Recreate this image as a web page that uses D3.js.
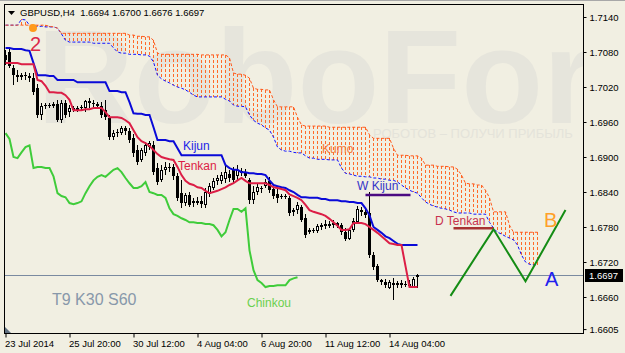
<!DOCTYPE html>
<html><head><meta charset="utf-8">
<script src="https://cdn.jsdelivr.net/npm/d3@7"></script>
<style>html,body{margin:0;padding:0;background:#f1efe2;overflow:hidden}svg{display:block}</style>
</head><body><svg id="c" width="625" height="353"></svg>
<script>
// ---- DATA (GBPUSD H4) ----
const opens=[1.7075,1.7080,1.7052,1.7040,1.7037,1.7040,1.7039,1.7035,1.7018,1.6972,
1.6987,1.6989,1.6987,1.6991,1.6963,1.6992,1.6977,1.6984,1.6980,1.6984,
1.6984,1.6996,1.6992,1.6991,1.6987,1.6980,1.6967,1.6934,1.6941,1.6941,
1.6950,1.6944,1.6932,1.6912,1.6895,1.6907,1.6917,1.6920,1.6881,1.6860,
1.6878,1.6883,1.6883,1.6867,1.6838,1.6821,1.6835,1.6821,1.6824,1.6824,
1.6818,1.6836,1.6847,1.6859,1.6859,1.6862,1.6871,1.6878,1.6867,1.6876,
1.6874,1.6860,1.6826,1.6840,1.6847,1.6850,1.6859,1.6845,1.6836,1.6831,
1.6833,1.6830,1.6806,1.6809,1.6814,1.6795,1.6771,1.6775,1.6773,1.6780,
1.6782,1.6785,1.6783,1.6787,1.6783,1.6771,1.6759,1.6775,1.6788,1.6809,
1.6806,1.6804,1.6732,1.6713,1.6689,1.6686,1.6675,1.6684,1.6680,1.6684,
1.6680,1.6682,1.6677,1.6694];
const highs=[1.7083,1.7087,1.7058,1.7049,1.7044,1.7046,1.7044,1.7044,1.7025,1.6992,
1.6992,1.6992,1.6994,1.6998,1.6998,1.6998,1.6989,1.6987,1.6987,1.6989,
1.6998,1.7001,1.6998,1.6994,1.6994,1.6998,1.6972,1.6946,1.6948,1.6953,
1.6953,1.6950,1.6939,1.6920,1.6915,1.6926,1.6927,1.6927,1.6890,1.6886,
1.6891,1.6890,1.6888,1.6872,1.6860,1.6838,1.6840,1.6830,1.6831,1.6833,
1.6847,1.6855,1.6864,1.6869,1.6874,1.6886,1.6878,1.6883,1.6886,1.6881,
1.6879,1.6864,1.6850,1.6854,1.6850,1.6862,1.6866,1.6848,1.6847,1.6836,
1.6836,1.6833,1.6812,1.6823,1.6818,1.6802,1.6778,1.6778,1.6785,1.6787,
1.6792,1.6790,1.6792,1.6788,1.6787,1.6778,1.6778,1.6795,1.6816,1.6814,
1.6811,1.6840,1.6737,1.6716,1.6691,1.6691,1.6689,1.6692,1.6687,1.6689,
1.6687,1.6689,1.6694,1.6700];
const lows=[1.7058,1.7052,1.7023,1.7028,1.7032,1.7032,1.7028,1.7006,1.6967,1.6963,
1.6982,1.6984,1.6984,1.6960,1.6958,1.6967,1.6968,1.6977,1.6977,1.6979,
1.6977,1.6984,1.6984,1.6984,1.6967,1.6963,1.6929,1.6929,1.6934,1.6938,
1.6938,1.6924,1.6900,1.6886,1.6891,1.6902,1.6912,1.6869,1.6852,1.6857,
1.6869,1.6874,1.6860,1.6824,1.6812,1.6816,1.6814,1.6814,1.6818,1.6812,
1.6812,1.6831,1.6843,1.6852,1.6854,1.6855,1.6857,1.6854,1.6860,1.6867,
1.6864,1.6819,1.6819,1.6835,1.6838,1.6847,1.6838,1.6828,1.6821,1.6828,
1.6828,1.6799,1.6799,1.6802,1.6788,1.6761,1.6768,1.6770,1.6770,1.6775,
1.6776,1.6778,1.6778,1.6778,1.6766,1.6756,1.6758,1.6771,1.6785,1.6799,
1.6795,1.6727,1.6706,1.6686,1.6680,1.6675,1.6674,1.6655,1.6675,1.6675,
1.6677,1.6675,1.6675,1.6676];
const closes=[1.7066,1.7056,1.7040,1.7037,1.7040,1.7039,1.7035,1.7011,1.6972,1.6987,
1.6989,1.6987,1.6991,1.6963,1.6992,1.6972,1.6984,1.6980,1.6984,1.6986,
1.6996,1.6992,1.6991,1.6987,1.6972,1.6968,1.6934,1.6941,1.6943,1.6950,
1.6944,1.6929,1.6907,1.6891,1.6912,1.6920,1.6924,1.6874,1.6857,1.6878,
1.6883,1.6881,1.6867,1.6830,1.6821,1.6835,1.6818,1.6824,1.6821,1.6819,
1.6840,1.6850,1.6859,1.6864,1.6869,1.6874,1.6864,1.6860,1.6878,1.6872,
1.6867,1.6826,1.6840,1.6848,1.6845,1.6857,1.6843,1.6833,1.6830,1.6833,
1.6831,1.6804,1.6809,1.6818,1.6792,1.6766,1.6775,1.6773,1.6782,1.6783,
1.6785,1.6782,1.6787,1.6782,1.6771,1.6759,1.6775,1.6790,1.6811,1.6806,
1.6800,1.6732,1.6711,1.6689,1.6686,1.6680,1.6686,1.6680,1.6684,1.6680,
1.6682,1.6679,1.6691,1.6697];
const tenkan=[1.7061,1.7061,1.7061,1.7061,1.7059,1.7059,1.7059,1.7059,1.7032,1.7030,
1.7022,1.7011,1.7011,1.7010,1.7010,1.7006,1.6998,1.6980,1.6980,1.6980,
1.6982,1.6982,1.6984,1.6984,1.6984,1.6977,1.6968,1.6968,1.6968,1.6967,
1.6963,1.6958,1.6946,1.6934,1.6927,1.6924,1.6919,1.6912,1.6905,1.6900,
1.6898,1.6896,1.6895,1.6883,1.6869,1.6859,1.6854,1.6852,1.6848,1.6847,
1.6842,1.6838,1.6840,1.6842,1.6845,1.6848,1.6852,1.6855,1.6860,1.6864,
1.6859,1.6855,1.6855,1.6855,1.6855,1.6855,1.6852,1.6848,1.6847,1.6845,
1.6843,1.6836,1.6833,1.6830,1.6826,1.6818,1.6809,1.6806,1.6804,1.6802,
1.6799,1.6794,1.6788,1.6782,1.6775,1.6775,1.6776,1.6787,1.6787,1.6787,
1.6785,1.6780,1.6775,1.6770,1.6764,1.6758,1.6752,1.6751,1.6749,1.6749,
1.6713,1.6677,1.6677,1.6677];
const kijun=[1.7087,1.7087,1.7085,1.7085,1.7085,1.7083,1.7082,1.7061,1.7040,1.7040,
1.7040,1.7039,1.7039,1.7032,1.7032,1.7032,1.7032,1.7032,1.7028,1.7028,
1.7028,1.7028,1.7028,1.7028,1.7028,1.7028,1.7013,1.7013,1.7013,1.7011,
1.7011,1.6994,1.6975,1.6974,1.6974,1.6972,1.6972,1.6951,1.6929,1.6929,
1.6929,1.6927,1.6927,1.6915,1.6903,1.6903,1.6903,1.6903,1.6903,1.6903,
1.6903,1.6903,1.6903,1.6903,1.6903,1.6886,1.6881,1.6878,1.6878,1.6874,
1.6874,1.6872,1.6872,1.6871,1.6871,1.6869,1.6860,1.6852,1.6850,1.6848,
1.6847,1.6843,1.6840,1.6835,1.6831,1.6831,1.6830,1.6830,1.6830,1.6828,
1.6828,1.6826,1.6826,1.6826,1.6824,1.6824,1.6823,1.6823,1.6821,1.6821,
1.6812,1.6800,1.6780,1.6775,1.6770,1.6764,1.6761,1.6756,1.6751,1.6749,
1.6749,1.6749,1.6749,1.6749];
const chinkou=[1.6941,1.6931,1.6900,1.6898,1.6908,1.6917,1.6920,1.6881,1.6883,1.6883,
1.6881,1.6881,1.6867,1.6838,1.6833,1.6831,1.6821,1.6819,1.6821,1.6824,
1.6838,1.6850,1.6860,1.6866,1.6869,1.6866,1.6872,1.6878,1.6881,1.6874,
1.6864,1.6855,1.6847,1.6847,1.6850,1.6857,1.6840,1.6838,1.6835,1.6835,
1.6830,1.6812,1.6802,1.6799,1.6795,1.6792,1.6788,1.6788,1.6787,1.6787,
1.6785,1.6785,1.6783,1.6775,1.6764,1.6771,1.6792,1.6811,1.6811,1.6806,
1.6812,1.6740,1.6706,1.6689,1.6684,1.6677,1.6679,1.6679,1.6680,1.6680,
1.6680,1.6689,1.6692,1.6694];
const kumoUpper=[1.7126,1.7126,1.7126,1.7126,1.7126,1.7126,1.7126,1.7126,1.7126,1.7126,
1.7126,1.7124,1.7123,1.7121,1.7112,1.7112,1.7112,1.7112,1.7112,1.7112,
1.7112,1.7112,1.7112,1.7112,1.7112,1.7112,1.7112,1.7112,1.7112,1.7112,
1.7112,1.7109,1.7109,1.7107,1.7107,1.7106,1.7106,1.7100,1.7078,1.7076,
1.7076,1.7076,1.7076,1.7076,1.7076,1.7076,1.7076,1.7076,1.7076,1.7075,
1.7075,1.7075,1.7075,1.7075,1.7075,1.7075,1.7070,1.7044,1.7042,1.7042,
1.7040,1.7035,1.7018,1.7016,1.7016,1.7015,1.7015,1.6998,1.6986,1.6986,
1.6986,1.6986,1.6986,1.6968,1.6955,1.6953,1.6953,1.6953,1.6953,1.6953,
1.6953,1.6951,1.6951,1.6951,1.6951,1.6951,1.6951,1.6951,1.6951,1.6951,
1.6951,1.6938,1.6932,1.6932,1.6932,1.6932,1.6932,1.6915,1.6903,1.6903,
1.6903,1.6902,1.6902,1.6902,1.6898,1.6886,1.6886,1.6886,1.6884,1.6884,
1.6884,1.6883,1.6883,1.6879,1.6869,1.6855,1.6854,1.6854,1.6852,1.6852,
1.6843,1.6830,1.6806,1.6806,1.6806,1.6806,1.6783,1.6771,1.6771,1.6771,
1.6771,1.6771,1.6771,1.6771];
const kumoLower=[1.7126,1.7126,1.7126,1.7126,1.7136,1.7135,1.7126,1.7124,1.7124,1.7124,
1.7123,1.7123,1.7123,1.7121,1.7111,1.7100,1.7097,1.7097,1.7097,1.7097,
1.7097,1.7097,1.7095,1.7095,1.7095,1.7095,1.7095,1.7087,1.7080,1.7078,
1.7078,1.7076,1.7076,1.7076,1.7075,1.7075,1.7073,1.7063,1.7040,1.7034,
1.7030,1.7027,1.7023,1.7020,1.7018,1.7015,1.7011,1.7006,1.7003,1.7003,
1.7003,1.7003,1.7003,1.7003,1.7003,1.6999,1.6996,1.6989,1.6987,1.6987,
1.6986,1.6972,1.6963,1.6958,1.6955,1.6950,1.6946,1.6934,1.6917,1.6912,
1.6910,1.6910,1.6908,1.6907,1.6907,1.6902,1.6898,1.6898,1.6896,1.6896,
1.6896,1.6895,1.6895,1.6895,1.6881,1.6872,1.6871,1.6869,1.6867,1.6867,
1.6866,1.6866,1.6864,1.6864,1.6862,1.6862,1.6860,1.6860,1.6857,1.6852,
1.6847,1.6843,1.6840,1.6838,1.6830,1.6823,1.6819,1.6816,1.6814,1.6812,
1.6811,1.6809,1.6806,1.6804,1.6804,1.6804,1.6804,1.6802,1.6802,1.6802,
1.6802,1.6788,1.6778,1.6771,1.6768,1.6764,1.6761,1.6758,1.6749,1.6732,
1.6720,1.6716,1.6715,1.6715];
const priceTicks=[1.7140,1.7080,1.7020,1.6960,1.6900,1.6840,1.6780,1.6720,1.6660,1.6605];
const timeTickIndex=[0,16,32,48,64,80,96];
const timeTickLabels=["23 Jul 2014","25 Jul 20:00","30 Jul 12:00","4 Aug 04:00","6 Aug 20:00","11 Aug 12:00","14 Aug 04:00"];
const lastPrice=1.6697;
const zigzag=[[111.25,1.6662],[122,1.6776],[130,1.6687],[140,1.6809]];
const wKijunLine=[[90,1.6835],[101.25,1.6835]];
const dTenkanLine=[[112,1.6778],[122,1.6778]];
const titleText="GBPUSD,H4  1.6694 1.6700 1.6676 1.6697";

// ---- CHART ----
const W=625,H=353,L=4,T=4,R=583,B=333;
const FONT="'Liberation Sans', Arial, sans-serif";
const svg=d3.select("#c");
const x=d3.scaleLinear().domain([0,103]).range([5.5,417.5]);
const y=d3.scaleLinear().domain([1.6660,1.7140]).range([297,17]);

svg.append("rect").attr("width",W).attr("height",H).attr("fill","#f1efe2");
svg.append("rect").attr("width",W).attr("height",1).attr("fill","#a8a8a8");
svg.append("defs").append("clipPath").attr("id","pc").append("rect")
  .attr("x",L).attr("y",T).attr("width",R-L).attr("height",B-T);
const g=svg.append("g").attr("clip-path","url(#pc)");

// watermark (runs past the right edge, clipped like the original)
g.append("text").attr("x",37).attr("y",123).attr("font-family",FONT).attr("font-weight","bold")
  .attr("font-size",134).attr("fill","#e6e5dc").text("RoboForex");
g.append("text").attr("x",373).attr("y",138).attr("font-family",FONT).attr("font-size",13)
  .attr("fill","#e4e3da").text("РОБОТОВ – ПОЛУЧИ ПРИБЫЛЬ");

// kumo hatch
g.append("g").selectAll("line").data(kumoUpper).join("line")
  .attr("x1",(d,i)=>x(i)).attr("x2",(d,i)=>x(i))
  .attr("y1",d=>Math.round(y(d))).attr("y2",(d,i)=>Math.round(y(kumoLower[i])))
  .attr("stroke","#ff6a28").attr("stroke-width",1).attr("stroke-dasharray","3,2");
const lineGen=d3.line().x((d,i)=>x(i)).y(d=>y(d));
g.append("path").datum(kumoLower).attr("d",lineGen).attr("fill","none")
  .attr("stroke","#1010ff").attr("stroke-width",1).attr("stroke-dasharray","3,2");
g.append("path").datum(kumoUpper).attr("d",lineGen).attr("fill","none")
  .attr("stroke","#ff5a1e").attr("stroke-width",1).attr("stroke-dasharray","3,2");

// last price line
const yl=Math.round(y(lastPrice))+0.5;
g.append("line").attr("x1",L).attr("x2",R).attr("y1",yl).attr("y2",yl)
  .attr("stroke","#7a8aa0").attr("stroke-width",1);

// candles
const cg=g.append("g");
opens.forEach((o,i)=>{
  const c=closes[i],cx=x(i);
  cg.append("line").attr("x1",cx).attr("x2",cx)
    .attr("y1",Math.round(y(highs[i]))).attr("y2",Math.round(y(lows[i])))
    .attr("stroke","#000");
  const top=Math.round(y(Math.max(o,c))),bot=Math.round(y(Math.min(o,c)));
  if(bot-top<=1){
    cg.append("rect").attr("x",cx-1.5).attr("y",top).attr("width",3).attr("height",1).attr("fill","#000");
  }else if(c<o){
    cg.append("rect").attr("x",cx-1.5).attr("y",top).attr("width",3).attr("height",bot-top).attr("fill","#000");
  }else{
    cg.append("rect").attr("x",cx-1).attr("y",top+0.5).attr("width",2).attr("height",bot-top-1)
      .attr("fill","#fff").attr("stroke","#000").attr("stroke-width",1);
  }
});

// ichimoku lines
g.append("path").datum(chinkou).attr("d",lineGen).attr("fill","none").attr("stroke","#3fcc3a").attr("stroke-width",2);
g.append("path").datum(kijun).attr("d",lineGen).attr("fill","none").attr("stroke","#0a0ad8").attr("stroke-width",2);
g.append("path").datum(tenkan).attr("d",lineGen).attr("fill","none").attr("stroke","#dc1e46").attr("stroke-width",2);

// annotations
const ptLine=d3.line().x(d=>x(d[0])).y(d=>y(d[1]));
g.append("path").datum(wKijunLine).attr("d",ptLine).attr("stroke","#4b0a82").attr("stroke-width",2.5).attr("fill","none");
g.append("path").datum(dTenkanLine).attr("d",ptLine).attr("stroke","#a83232").attr("stroke-width",2.5).attr("fill","none");
g.append("path").datum(zigzag).attr("d",ptLine).attr("stroke","#148c14").attr("stroke-width",2).attr("fill","none");

const lab=(tx,xx,yy,col,fs)=>g.append("text").attr("x",xx).attr("y",yy).attr("fill",col)
  .attr("font-family",FONT).attr("font-size",fs).text(tx);
lab("Kijun",183,150,"#2424e8",12);
lab("Tenkan",178,170,"#dc1e46",12);
lab("Kumo",322,153,"#f47a3c",12);
lab("Chinkou",247,307,"#6ad04e",12);
lab("W Kijun",357,190,"#3434c8",12);
lab("D Tenkan",435,225,"#c8324e",12);
lab("T9 K30 S60",52,305,"#8898aa",16);
lab("A",545,286,"#2020ee",20);
lab("B",544,227,"#ffa028",20);
lab("2",30,51,"#dc2848",20);
g.append("circle").attr("cx",33).attr("cy",28).attr("r",4).attr("fill","#ff9a1a");

// small marker bottom-left
svg.append("polygon").attr("points","4,326 4,333 11,333").attr("fill","#607080");

// frame
svg.append("rect").attr("x",L+0.5).attr("y",T+0.5).attr("width",R-L).attr("height",B-T)
  .attr("fill","none").attr("stroke","#000");

// axes
const ya=svg.append("g").attr("transform",`translate(${R+0.5},0)`)
  .call(d3.axisRight(y).tickValues(priceTicks).tickSize(3).tickPadding(3).tickFormat(d3.format(".4f")));
ya.select(".domain").remove();
ya.selectAll("text").attr("font-family",FONT).attr("font-size",9.5).attr("fill","#000");
ya.selectAll("line").attr("stroke","#000");

const xa=svg.append("g").attr("transform",`translate(0,${B+0.5})`)
  .call(d3.axisBottom(x).tickValues(timeTickIndex).tickSize(4).tickPadding(3).tickFormat((d,i)=>timeTickLabels[i]));
xa.select(".domain").remove();
xa.selectAll("text").attr("font-family",FONT).attr("font-size",9.5).attr("fill","#000").attr("text-anchor","start").attr("x",-1);
xa.selectAll("line").attr("stroke","#000");

// last price tag
svg.append("rect").attr("x",585).attr("y",Math.round(y(lastPrice))-6).attr("width",38).attr("height",13).attr("fill","#000");
svg.append("text").attr("x",589).attr("y",Math.round(y(lastPrice))+4).attr("fill","#fff")
  .attr("font-family",FONT).attr("font-size",9.5).text(d3.format(".4f")(lastPrice));

// title
svg.append("polygon").attr("points","8,11 15,11 11.5,15").attr("fill","#000");
svg.append("text").attr("x",20).attr("y",16).attr("font-family",FONT).attr("font-size",9.5)
  .attr("fill","#000").attr("xml:space","preserve").style("white-space","pre").text(titleText);
</script></body></html>
